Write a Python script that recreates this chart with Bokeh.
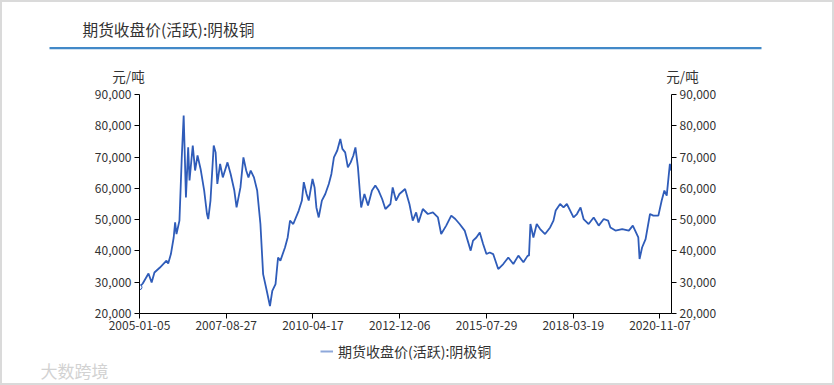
from datetime import datetime
from bokeh.plotting import figure
from bokeh.layouts import column
from bokeh.models import (LinearAxis, Range1d, FixedTicker, DatetimeTickFormatter,
                          Legend, LegendItem, NumeralTickFormatter, ColumnDataSource)
from bokeh.core.properties import value
from bokeh.embed import file_html
from bokeh.resources import INLINE

# ---------------- data ----------------
title_text = "期货收盘价(活跃):阴极铜"
series_name = "期货收盘价(活跃):阴极铜"
unit_text = "元/吨"
watermark_text = "大数跨境"

dates = [
    "2005-01-05", "2005-02-10", "2005-04-15", "2005-05-20", "2005-06-20", "2005-08-20",
    "2005-11-01", "2005-11-20", "2005-12-20", "2006-01-20", "2006-02-05", "2006-02-20",
    "2006-03-25", "2006-04-20", "2006-05-11", "2006-05-20", "2006-06-05", "2006-06-30",
    "2006-07-15", "2006-08-20", "2006-09-15", "2006-10-12", "2006-11-15", "2006-12-25",
    "2007-01-25", "2007-02-08", "2007-03-05", "2007-04-10", "2007-05-01", "2007-05-20",
    "2007-06-20", "2007-07-20", "2007-09-10", "2007-10-15", "2007-11-25", "2007-12-20",
    "2008-02-01", "2008-03-05", "2008-04-05", "2008-04-30", "2008-05-25", "2008-06-30",
    "2008-08-05", "2008-09-10", "2008-10-10", "2008-11-20", "2008-12-25", "2009-01-20",
    "2009-02-25", "2009-03-25", "2009-04-20", "2009-06-10", "2009-07-10", "2009-08-05",
    "2009-09-10", "2009-11-10", "2009-12-15", "2010-01-05", "2010-02-05", "2010-03-01",
    "2010-04-12", "2010-05-05", "2010-05-25", "2010-06-20", "2010-07-25", "2010-09-01",
    "2010-10-10", "2010-11-08", "2010-12-06", "2011-01-12", "2011-02-15", "2011-03-10",
    "2011-04-10", "2011-05-10", "2011-06-10", "2011-07-10", "2011-08-02", "2011-08-30",
    "2011-09-25", "2011-10-05", "2011-11-10", "2011-12-20", "2012-02-02", "2012-03-10",
    "2012-04-15", "2012-05-25", "2012-06-30", "2012-08-25", "2012-09-19", "2012-10-26",
    "2012-12-03", "2013-02-04", "2013-03-24", "2013-04-30", "2013-06-07", "2013-07-03",
    "2013-08-20", "2013-10-15", "2013-12-10", "2014-02-04", "2014-03-12", "2014-05-07",
    "2014-07-02", "2014-08-16", "2014-10-03", "2014-11-28", "2015-02-03", "2015-03-01",
    "2015-04-07", "2015-05-15", "2015-06-21", "2015-07-28", "2015-09-03", "2015-10-11",
    "2015-12-06", "2016-01-31", "2016-03-27", "2016-05-22", "2016-07-17", "2016-09-11",
    "2016-10-29", "2016-11-12", "2016-11-28", "2016-12-31", "2017-02-06", "2017-03-16",
    "2017-05-10", "2017-07-05", "2017-08-11", "2017-09-05", "2017-10-24", "2017-12-01",
    "2018-01-07", "2018-02-13", "2018-03-22", "2018-04-29", "2018-06-08", "2018-07-12",
    "2018-09-06", "2018-11-01", "2018-12-27", "2019-02-21", "2019-04-10", "2019-05-06",
    "2019-07-01", "2019-09-14", "2019-11-27", "2020-01-10", "2020-02-05", "2020-03-11",
    "2020-03-25", "2020-04-22", "2020-05-31", "2020-07-19", "2020-08-25", "2020-10-20",
    "2020-11-26", "2020-12-26", "2021-01-21", "2021-02-10", "2021-02-25", "2021-03-12",
]
copper_price = [
    28400, 29600, 32800, 29900, 33100, 34700,
    36900, 36000, 39000, 44300, 49100, 45400,
    49700, 70000, 83300, 74200, 57100, 73100,
    62500, 73700, 65700, 70500, 66200, 59300,
    51800, 50200, 56100, 73700, 71500, 61400,
    67800, 63500, 68300, 64600, 59300, 53900,
    60300, 69900, 65700, 63500, 65700, 63500,
    59300, 48600, 32600, 27200, 22400, 27200,
    29400, 37900, 36900, 41100, 44300, 49700,
    48600, 52900, 56100, 62000, 58200, 56100,
    63000, 60300, 53900, 50700, 56100, 58200,
    61400, 64600, 69900, 72100, 75800, 72600,
    71500, 66700, 68300, 70500, 73100, 66700,
    57100, 53900, 58200, 54500, 59300, 60900,
    59300, 56600, 53400, 55000, 60300, 56100,
    58200, 59800, 55000, 49700, 52300, 49100,
    53400, 51800, 52300, 50700, 45400, 48100,
    51300, 50200, 48600, 46500, 40100, 43300,
    44300, 45900, 42200, 39000, 39500, 39000,
    34200, 35800, 37900, 35800, 38500, 36400,
    38500, 38500, 48600, 44300, 48600, 47000,
    45400, 47500, 49700, 52900, 55000, 53900,
    55000, 52900, 50700, 51800, 53900, 50200,
    48600, 50700, 48100, 50200, 49700, 47500,
    46500, 47000, 46500, 48100, 46500, 44300,
    37400, 41100, 43800, 51800, 51300, 51300,
    56100, 59300, 57700, 63500, 67800, 65700,
]

x_tick_labels = ["2005-01-05", "2007-08-27", "2010-04-17", "2012-12-06",
                 "2015-07-29", "2018-03-19", "2020-11-07"]
y_ticks = [20000, 30000, 40000, 50000, 60000, 70000, 80000, 90000]
x_start = "2005-01-05"
x_end = "2021-03-15"

# ---------------- helpers ----------------
def to_dt(s):
    return datetime.strptime(s, "%Y-%m-%d")

EPOCH = datetime(1970, 1, 1)

def to_ms(s):
    return (to_dt(s) - EPOCH).total_seconds() * 1000.0

FONT = "Noto Sans CJK SC"
LINE_COLOR = "#2f5cb9"
TEXT_COLOR = "#333333"

# page geometry (image pixels); a 2px light border surrounds the content box
X0, X1 = 2, 832          # content box left/right
HEAD_Y0, HEAD_Y1 = 2, 85
MAIN_Y0, MAIN_Y1 = 85, 339
FOOT_Y0, FOOT_Y1 = 339, 383
FRAME_L, FRAME_R, FRAME_T, FRAME_B = 139, 671, 94, 313
CW = X1 - X0


def blank_fig(y0, y1):
    f = figure(width=CW, height=y1 - y0, output_backend="svg", toolbar_location=None,
               x_range=Range1d(X0, X1), y_range=Range1d(y1, y0),
               x_axis_location=None, y_axis_location=None, min_border=0,
               frame_align=False,
               background_fill_color="white", border_fill_color="white")
    f.outline_line_color = None
    f.grid.visible = False
    return f

# ---------------- header ----------------
head = blank_fig(HEAD_Y0, HEAD_Y1)
head.text(x=[82], y=[28.5], text=[title_text], text_font=value(FONT),
          text_font_size="15.7px", text_color=TEXT_COLOR,
          text_baseline="middle", text_align="left")
head.quad(left=[49], right=[761], top=[46.6], bottom=[48.8],
          fill_color="#4289c8", line_color=None)
head.text(x=[128, 682], y=[75.3, 75.3], text=[unit_text, unit_text], text_font=value(FONT),
          text_font_size="13.5px", text_color=TEXT_COLOR,
          text_baseline="middle", text_align="center")

# ---------------- main chart ----------------
p = figure(width=CW, height=MAIN_Y1 - MAIN_Y0, output_backend="svg", toolbar_location=None,
           x_axis_type="datetime",
           x_range=Range1d(to_dt(x_start), to_dt(x_end)),
           y_range=Range1d(y_ticks[0], y_ticks[-1]),
           min_border_left=FRAME_L - X0, min_border_right=X1 - FRAME_R,
           min_border_top=FRAME_T - MAIN_Y0, min_border_bottom=MAIN_Y1 - FRAME_B,
           frame_align=False,
           background_fill_color="white", border_fill_color="white")
p.outline_line_color = None
p.grid.visible = False

src = ColumnDataSource(dict(x=[to_dt(d) for d in dates], y=copper_price))
p.line("x", "y", source=src, line_color=LINE_COLOR, line_width=1.8)
p.scatter(x=[to_dt(dates[0])], y=[copper_price[0]], size=5, marker="circle",
          line_color=LINE_COLOR, fill_color="white", line_width=1)


def style_axis(ax):
    ax.axis_line_color = "black"
    ax.axis_line_width = 1
    ax.major_tick_line_color = "black"
    ax.major_tick_out = 5
    ax.major_tick_in = 0
    ax.minor_tick_line_color = None
    ax.major_label_text_font = FONT
    ax.major_label_text_font_size = "12px"
    ax.major_label_text_color = TEXT_COLOR
    ax.major_label_standoff = 3


xa = p.xaxis[0]
style_axis(xa)
xa.ticker = FixedTicker(ticks=[to_ms(s) for s in x_tick_labels])
fmt = "%Y-%m-%d"
xa.formatter = DatetimeTickFormatter(milliseconds=fmt, seconds=fmt, minsec=fmt,
                                     minutes=fmt, hourmin=fmt, hours=fmt, days=fmt,
                                     months=fmt, years=fmt)
xa.major_label_standoff = 2

ya = p.yaxis[0]
style_axis(ya)
ya.ticker = FixedTicker(ticks=y_ticks)
ya.formatter = NumeralTickFormatter(format="0,0")

p.extra_y_ranges = {"right": Range1d(y_ticks[0], y_ticks[-1])}
yr = LinearAxis(y_range_name="right")
style_axis(yr)
yr.ticker = FixedTicker(ticks=y_ticks)
yr.formatter = NumeralTickFormatter(format="0,0")
p.add_layout(yr, "right")

# ---------------- footer: legend + watermark ----------------
foot = blank_fig(FOOT_Y0, FOOT_Y1)
# helper renderer for the legend swatch, placed outside the visible footer range
leg_r = foot.line(x=[X0, X0 + 1], y=[FOOT_Y1 + 50, FOOT_Y1 + 50],
                  line_color="#8ea8da", line_width=2)
leg_h = 14
leg_cy = 354.3
legend = Legend(items=[LegendItem(label=series_name, renderers=[leg_r])],
                location=(320 - X0, FOOT_Y1 - (leg_cy + leg_h / 2)),
                orientation="horizontal", padding=0, margin=0, spacing=0,
                glyph_width=13, glyph_height=leg_h, label_height=leg_h, label_standoff=5,
                label_text_font=FONT, label_text_font_size="14px",
                label_text_color=TEXT_COLOR, label_text_baseline="middle",
                border_line_color=None, background_fill_alpha=0)
foot.add_layout(legend, "center")
foot.text(x=[40], y=[369.7], text=[watermark_text], text_font=value(FONT),
          text_font_size="17px", text_color="#d2d2d2",
          text_baseline="middle", text_align="left")

layout = column(head, p, foot, spacing=0,
                styles={"border": "2px solid #dadada"})

open("out.html", "w").write(file_html(layout, INLINE))
